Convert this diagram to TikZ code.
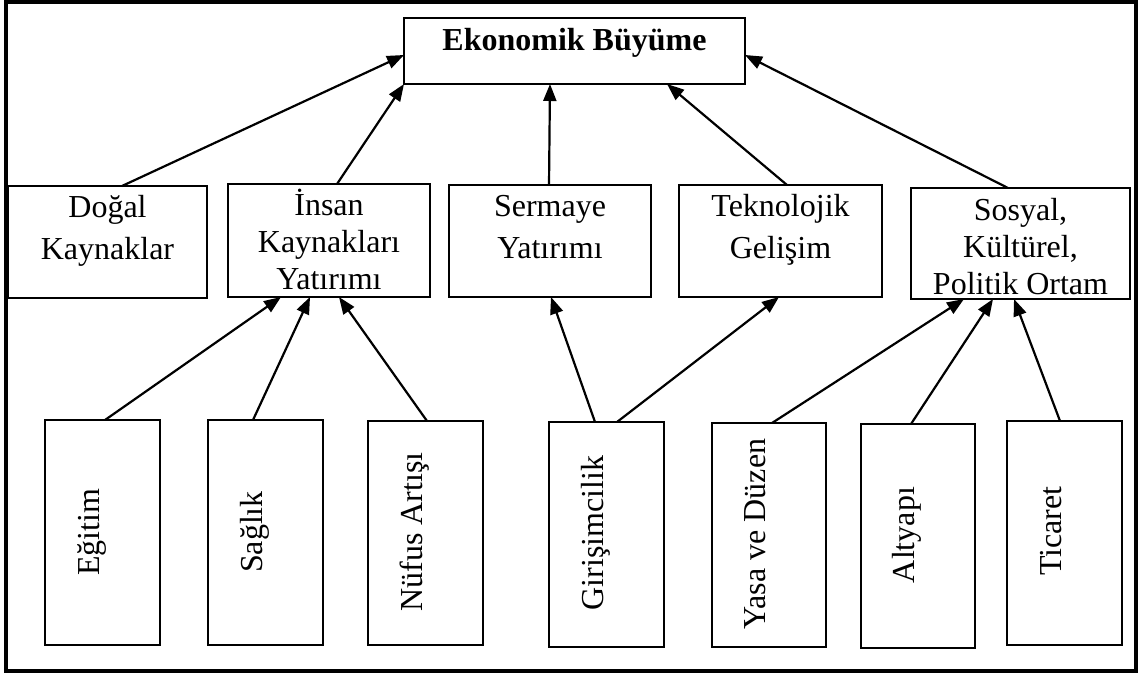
\documentclass[tikz,border=0pt]{standalone}
\usepackage{fontspec}
\setmainfont{Liberation Serif}
\usetikzlibrary{arrows.meta}

% box from corner (#2,#3) to corner (#4,#5), named #1
\newcommand\mkbox[5]{%
  \node[box, minimum width={(#4-#2)*1pt}, minimum height={(#5-#3)*1pt}]
    (#1) at ({(#2+#4)/2},{(#3+#5)/2}) {};}

\begin{document}
\begin{tikzpicture}[x=1pt, y=-1pt,
  box/.style={draw, line width=2.4pt, inner sep=0pt, outer sep=0pt},
  link/.style={line width=2.2pt, -{Triangle[length=17pt,width=13pt]}},
  lbl/.style={anchor=base, inner sep=0pt, outer sep=0pt},
  vlbl/.style={rotate=90, anchor=base, inner sep=0pt, outer sep=0pt,
               font=\fontsize{32}{37}\selectfont},
  two/.style={font=\fontsize{32}{41.5}\selectfont},
  three/.style={font=\fontsize{32}{37}\selectfont}]

\useasboundingbox (0,0) rectangle (1139,675);
\draw[line width=3.2pt] (6,2) rectangle (1136,671);

% boxes
\mkbox{eko}{404}{18}{745}{84}
\mkbox{dogal}{8}{186}{207}{298}
\mkbox{insan}{228}{184}{430}{297}
\mkbox{sermaye}{449}{185}{651}{297}
\mkbox{tekno}{679}{185}{882}{297}
\mkbox{sosyal}{911}{188}{1130}{299}
\mkbox{egitim}{45}{420}{160}{645}
\mkbox{saglik}{208}{420}{323}{645}
\mkbox{nufus}{368}{421}{483}{645}
\mkbox{giris}{549}{422}{664}{647}
\mkbox{yasa}{712}{423}{826}{647}
\mkbox{altyapi}{861}{424}{975}{648}
\mkbox{ticaret}{1007}{421}{1122}{645}

% labels
\node[lbl, three] (tEko) at (574.5,50) {\textbf{Ekonomik Büyüme}};
\node[lbl, two] (tDogal) at (107.5,217.5)
  {\begin{tabular}[t]{@{}c@{}}Doğal\\Kaynaklar\end{tabular}};
\node[lbl, three] (tInsan) at (329,215)
  {\begin{tabular}[t]{@{}c@{}}İnsan\\Kaynakları\\Yatırımı\end{tabular}};
\node[lbl, two] (tSermaye) at (550,216.5)
  {\begin{tabular}[t]{@{}c@{}}Sermaye\\Yatırımı\end{tabular}};
\node[lbl, two] (tTekno) at (780.5,216.5)
  {\begin{tabular}[t]{@{}c@{}}Teknolojik\\Gelişim\end{tabular}};
\node[lbl, three] (tSosyal) at (1020.5,220)
  {\begin{tabular}[t]{@{}c@{}}Sosyal,\\Kültürel,\\Politik Ortam\end{tabular}};

\node[vlbl] (tEgitim)  at (99,532)    {Eğitim};
\node[vlbl] (tSaglik)  at (262,532)   {Sağlık};
\node[vlbl] (tNufus)   at (422.5,532) {Nüfus Artışı};
\node[vlbl] (tGiris)   at (603,533)   {Girişimcilik};
\node[vlbl] (tYasa)    at (765.5,534) {Yasa ve Düzen};
\node[vlbl] (tAltyapi) at (914.5,535) {Altyapı};
\node[vlbl] (tTicaret) at (1061,531)  {Ticaret};

% connectors to the top box
\draw[link] ([xshift=114pt]dogal.north west) -- ([yshift=-37pt]eko.north west);
\draw[link] ([xshift=109pt]insan.north west) -- (eko.south west);
\draw[link] ([xshift=100pt]sermaye.north west) -- ([xshift=146pt]eko.south west);
\draw[link] ([xshift=108pt]tekno.north west) -- ([xshift=263pt]eko.south west);
\draw[link] ([xshift=97pt]sosyal.north west) -- ([yshift=-37pt]eko.north east);

% connectors from the bottom row
\draw[link] ([xshift=60pt]egitim.north west) -- ([xshift=53pt]insan.south west);
\draw[link] ([xshift=45pt]saglik.north west) -- ([xshift=82pt]insan.south west);
\draw[link] ([xshift=59pt]nufus.north west) -- ([xshift=111pt]insan.south west);
\draw[link] ([xshift=46pt]giris.north west) -- ([xshift=102pt]sermaye.south west);
\draw[link] ([xshift=68pt]giris.north west) -- ([xshift=100pt]tekno.south west);
\draw[link] ([xshift=60pt]yasa.north west) -- ([xshift=53pt]sosyal.south west);
\draw[link] ([xshift=50pt]altyapi.north west) -- ([xshift=82pt]sosyal.south west);
\draw[link] ([xshift=53pt]ticaret.north west) -- ([xshift=103pt]sosyal.south west);
\end{tikzpicture}
\end{document}
